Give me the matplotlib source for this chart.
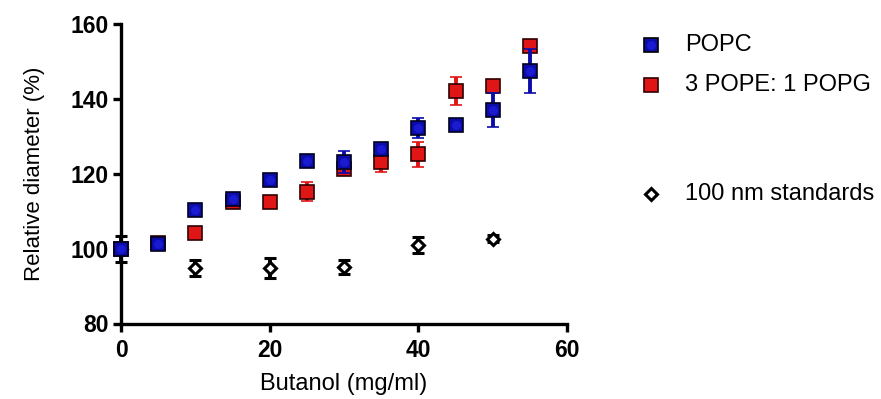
import matplotlib
matplotlib.use("Agg")
import matplotlib.pyplot as plt
from matplotlib.lines import Line2D

plt.rcParams['font.family'] = ['Liberation Sans', 'DejaVu Sans']

# Data
butanol = [0, 5, 10, 15, 20, 25, 30, 35, 40, 45, 50, 55]
popc = [100, 101.3, 110.2, 113.3, 118.3, 123.3, 123.2, 126.7, 132.3, 133.0, 137.0, 147.5]
popc_err = [1.0, 1.0, 1.0, 1.0, 1.5, 1.2, 3.0, 1.0, 2.7, 1.0, 4.5, 5.8]
pope_popg = [100, 101.5, 104.3, 112.5, 112.5, 115.2, 121.3, 123.2, 125.2, 142.1, 143.5, 154.0]
pope_popg_err = [1.0, 1.0, 1.0, 1.0, 1.0, 2.5, 1.0, 2.6, 3.4, 3.8, 1.0, 1.5]
std_x = [0, 10, 20, 30, 40, 50]
standards = [100, 94.9, 94.9, 95.0, 101.0, 102.7]
standards_err = [3.5, 2.1, 2.7, 1.9, 2.1, 1.0]
x_ticks = [0, 20, 40, 60]
y_ticks = [80, 100, 120, 140, 160]

labels = ["POPC", "3 POPE: 1 POPG", "100 nm standards"]
blue = "#0c0ca8"
blue_in = "#1a1ad0"
red = "#e01616"

W, H = 881, 399
fig = plt.figure(figsize=(W / 100, H / 100), dpi=100)
ax = fig.add_axes([121 / W, (H - 323.5) / H, 446 / W, 299.5 / H])

eb = dict(elinewidth=2.8, capsize=4.3, capthick=2.8, clip_on=False)
ax.errorbar(std_x, standards, yerr=standards_err, fmt='D', ms=6, mfc='white',
            mec='black', mew=2.2, ecolor='black', zorder=3, **eb)
ax.errorbar(butanol, pope_popg, yerr=pope_popg_err, fmt='s', ms=10, mfc=red,
            mec='#300000', mew=1.2, ecolor=red, zorder=4, **eb)
ax.errorbar(butanol, popc, yerr=popc_err, fmt='s', ms=10, mfc=blue,
            mec='#000020', mew=1.2, ecolor=blue, zorder=5, **eb)
ax.plot(butanol, popc, 'o', ms=6.5, mfc=blue_in, mec='none', zorder=6, clip_on=False)

ax.set_xlim(0, 60)
ax.set_ylim(80, 160)
ax.set_xticks(x_ticks)
ax.set_yticks(y_ticks)
ax.set_xticklabels([str(v) for v in x_ticks], fontsize=16.5, fontweight='bold')
ax.set_yticklabels([str(v) for v in y_ticks], fontsize=16.5, fontweight='bold')
for s in ['top', 'right']:
    ax.spines[s].set_visible(False)
for s in ['left', 'bottom']:
    ax.spines[s].set_linewidth(2.4)
ax.tick_params(axis='x', width=2.4, length=6, pad=5)
ax.tick_params(axis='y', width=2.4, length=6, pad=3)

ax.set_xlabel("Butanol (mg/ml)", fontsize=17, labelpad=8)
ax.set_ylabel("Relative diameter (%)", fontsize=16, labelpad=18)

# Legend (manual, figure coordinates)
leg_y = [45, 85, 194]
styles = [
    dict(marker='s', ms=10, mfc=blue, mec='black', mew=1.2),
    dict(marker='s', ms=10, mfc=red, mec='#300000', mew=1.2),
    dict(marker='D', ms=6, mfc='white', mec='black', mew=2.2),
]
for y, lab, st in zip(leg_y, labels, styles):
    fy = (H - y) / H
    fig.add_artist(Line2D([651 / W], [fy], linestyle='none', transform=fig.transFigure, **st))
    fig.text(685 / W, fy, lab, fontsize=17, va='center', ha='left')
fig.add_artist(Line2D([651 / W], [(H - leg_y[0]) / H], linestyle='none', marker='o', ms=6.5,
                      mfc=blue_in, mec='none', transform=fig.transFigure))

fig.savefig("out.png", dpi=100)
